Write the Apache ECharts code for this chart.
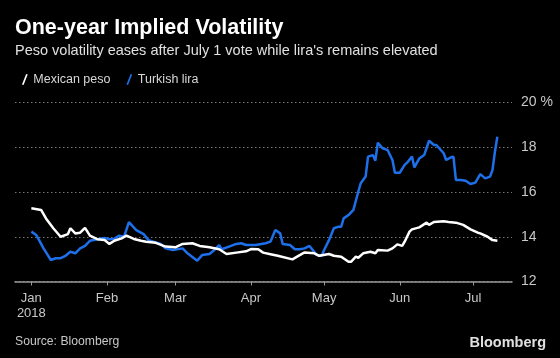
<!DOCTYPE html>
<html>
<head>
<meta charset="utf-8">
<script src="https://cdn.jsdelivr.net/npm/echarts@6/dist/echarts.min.js"></script>
<style>
html,body{margin:0;padding:0;background:#000;}
#chart{width:560px;height:358px;}
</style>
</head>
<body>
<div id="chart"></div>
<script>
// Days since 1 Jan 2018 and implied volatility (%)
const pesoDays = [0,4,6,9,12,15,16,18,20,22,24,27,30,32,34,37,39,42,45,47,51,55,59,62,66,69,73,77,80,84,88,90,93,95,98,101,107,110,112,116,118,122,124,127,130,131,133,134,136,139,141,142,146,148,150,152,153,155,156,159,162,163,165,169,171,174,177,180,183,184,187,189,191];
const pesoValues = [15.27,15.2,14.82,14.38,14.0,14.12,14.38,14.15,14.18,14.4,14.05,13.89,13.85,13.68,13.82,13.93,14.05,13.9,13.82,13.78,13.73,13.56,13.53,13.68,13.71,13.59,13.53,13.44,13.23,13.29,13.35,13.45,13.44,13.29,13.22,13.15,12.99,13.18,13.3,13.26,13.15,13.23,13.15,13.11,12.88,12.88,13.11,13.06,13.26,13.33,13.26,13.41,13.38,13.48,13.66,13.59,13.78,14.23,14.33,14.42,14.63,14.53,14.66,14.69,14.66,14.63,14.53,14.33,14.18,14.15,14.0,13.85,13.82];
const liraDays = [0,2,5,8,10,12,14,16,18,20,22,24,27,30,32,34,36,38,40,43,46,48,50,53,55,58,62,64,68,70,73,75,77,78,81,84,86,88,92,96,98,100,102,103,106,108,110,112,114,117,119,120,122,124,126,127,128,130,132,134,135,137,138,140,141,142,144,146,148,149,151,153,154,156,157,159,161,163,165,166,169,170,172,173,174,176,178,180,182,184,186,188,189,190,191];
const liraValues = [14.23,14.08,13.48,12.96,13.04,13.04,13.15,13.33,13.26,13.48,13.59,13.82,13.89,13.94,13.89,13.91,14.05,14.0,14.65,14.3,14.12,13.85,13.78,13.68,13.48,13.41,13.48,13.26,12.93,13.18,13.23,13.41,13.63,13.44,13.56,13.68,13.71,13.63,13.63,13.71,13.78,14.3,14.15,13.68,13.63,13.44,13.44,13.48,13.59,13.18,13.15,13.41,13.85,14.38,14.45,14.45,14.82,14.97,15.2,16.01,16.39,16.69,17.58,17.65,17.4,18.2,17.95,17.88,17.43,16.86,16.86,17.21,17.31,17.58,17.1,17.5,17.65,18.29,18.1,18.1,17.73,17.43,17.55,17.58,16.54,16.54,16.5,16.36,16.42,16.8,16.61,16.69,16.98,17.8,18.47];
const seriesNames = ['Mexican peso', 'Turkish lira'];
const monthLabels = ['Jan\n2018','Feb','Mar','Apr','May','Jun','Jul'];
const monthStartDays = [0,31,59,90,120,151,181];
const yTicks = [12,14,16,18,20];

const chart = echarts.init(document.getElementById('chart'));
const font = 'Liberation Sans';
chart.setOption({
  backgroundColor:'#000',
  animation:false,
  textStyle:{fontFamily:font},
  title:[
    {text:'One-year Implied Volatility', left:15, top:17, padding:0, textStyle:{color:'#fff', fontSize:21.5, fontWeight:'bold', fontFamily:font}},
    {text:'Peso volatility eases after July 1 vote while lira\'s remains elevated', left:15, top:43, padding:0, textStyle:{color:'#e0e0e0', fontSize:14.5, fontWeight:'normal', fontFamily:font}},
    {text:'Source: Bloomberg', left:15, top:336, padding:0, textStyle:{color:'#c8c8c8', fontSize:12.2, fontWeight:'normal', fontFamily:font}},
    {text:'Bloomberg', right:14, top:335, padding:0, textStyle:{color:'#e0e0e0', fontSize:14.5, fontWeight:'bold', fontFamily:font}}
  ],
  legend:{
    left:17, top:68, itemGap:16, itemWidth:7, itemHeight:11,
    icon:'path://M0,10 L4,0 L5.5,0.6 L1.5,10.6 Z',
    textStyle:{color:'#d8d8d8', fontSize:12.5, fontFamily:font, padding:[0,0,0,0]},
    data:seriesNames
  },
  grid:{left:15, right:48, top:102.5, bottom:76.5},
  xAxis:{
    type:'value',
    min:-6.7, max:197,
    axisLine:{lineStyle:{color:'#999', width:1.5}},
    axisTick:{show:true, customValues:monthStartDays, length:4, lineStyle:{color:'#999'}},
    axisLabel:{customValues:monthStartDays, color:'#c8c8c8', fontSize:13, margin:9, lineHeight:15, align:'center',
      formatter:function(v){const i=monthStartDays.indexOf(Math.round(v)); return i>=0 ? monthLabels[i] : '';}},
    splitLine:{show:false}
  },
  yAxis:{
    type:'value', position:'right', min:12, max:20, interval:2,
    axisLine:{show:false}, axisTick:{show:false},
    axisLabel:{color:'#c8c8c8', fontSize:14, margin:9, formatter:v=> v===20 ? '20 %' : String(v)},
    splitLine:{lineStyle:{color:'#777', type:[1.5,2.5], width:1}}
  },
  series:[
    {name:seriesNames[0], type:'line', showSymbol:false, data:pesoDays.map((d,i)=>[d,pesoValues[i]]), lineStyle:{color:'#ffffff', width:2.5}, itemStyle:{color:'#ffffff'}, z:3},
    {name:seriesNames[1], type:'line', showSymbol:false, data:liraDays.map((d,i)=>[d,liraValues[i]]), lineStyle:{color:'#1e70ea', width:2.5}, itemStyle:{color:'#1e70ea'}, z:2}
  ]
});
</script>
</body>
</html>
